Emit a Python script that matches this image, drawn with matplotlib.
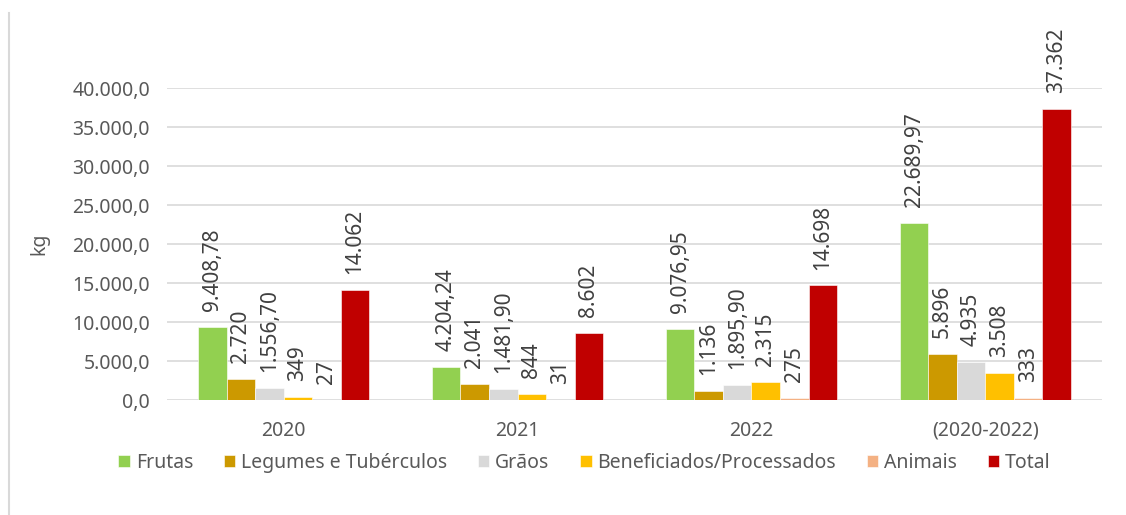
import matplotlib
matplotlib.use('Agg')
import matplotlib.pyplot as plt
import numpy as np
from matplotlib.lines import Line2D

plt.rcParams['font.family'] = ['Noto Sans', 'DejaVu Sans']

# dados
categorias = ['2020', '2021', '2022', '(2020-2022)']
series = ['Frutas', 'Legumes e Tubérculos', 'Grãos', 'Beneficiados/Processados', 'Animais', 'Total']
frutas = [9408.78, 4204.24, 9076.95, 22689.97]
legumes = [2720, 2041, 1136, 5896]
graos = [1556.70, 1481.90, 1895.90, 4935]
beneficiados = [349, 844, 2315, 3508]
animais = [27, 31, 275, 333]
total = [14062, 8602, 14698, 37362]

rotulos = [
    ['9.408,78', '4.204,24', '9.076,95', '22.689,97'],
    ['2.720', '2.041', '1.136', '5.896'],
    ['1.556,70', '1.481,90', '1.895,90', '4.935'],
    ['349', '844', '2.315', '3.508'],
    ['27', '31', '275', '333'],
    ['14.062', '8.602', '14.698', '37.362'],
]
y_ticks = [0, 5000, 10000, 15000, 20000, 25000, 30000, 35000, 40000]
y_tick_labels = ['0,0', '5.000,0', '10.000,0', '15.000,0', '20.000,0',
                 '25.000,0', '30.000,0', '35.000,0', '40.000,0']

cores = ['#92D050', '#CC9900', '#D9D9D9', '#FFC000', '#F4B183', '#C00000']
valores = [frutas, legumes, graos, beneficiados, animais, total]

fig = plt.figure(figsize=(11.26, 5.15), dpi=100)
ax = fig.add_axes([0.148, 0.223, 0.831, 0.606])

x = np.arange(len(categorias))
w = 0.122
texto = '#595959'

for i, (nome, vals, cor) in enumerate(zip(series, valores, cores)):
    pos = x + (i - 2.5) * w
    ax.bar(pos, vals, width=w, color=cor, label=nome, zorder=3,
           edgecolor='white', linewidth=0.4)
    for xp, v, lab in zip(pos, vals, rotulos[i]):
        ax.annotate(lab, (xp, v), xytext=(0, 11.5), textcoords='offset points',
                    rotation=90, ha='center', va='bottom', fontsize=15,
                    color='#404040', annotation_clip=False)

ax.set_xlim(-0.5, 3.5)
ax.set_ylim(0, 40000)
ax.set_yticks(y_ticks)
ax.set_yticklabels(y_tick_labels)
ax.set_xticks(x)
ax.set_xticklabels(categorias)
ax.tick_params(axis='both', length=0, labelsize=14, colors=texto)
ax.tick_params(axis='y', pad=12)
ax.tick_params(axis='x', pad=15)
ax.grid(axis='y', color='#D9D9D9', linewidth=1.2, zorder=0)
for s in ax.spines.values():
    s.set_visible(False)

ax.set_ylabel('kg', fontsize=14, color=texto)
ax.yaxis.set_label_coords(-0.125, 0.5)

leg = fig.legend(loc='center', bbox_to_anchor=(0.519, 0.101), ncol=6,
                 frameon=False, fontsize=14, handlelength=0.6, handleheight=0.6,
                 handletextpad=0.3, columnspacing=1.57, labelcolor=texto)

# borda esquerda da figura
fig.add_artist(Line2D([0.008, 0.008], [0.0, 0.975], color='#D9D9D9', linewidth=1.5))

fig.savefig('out.png', dpi=100)
